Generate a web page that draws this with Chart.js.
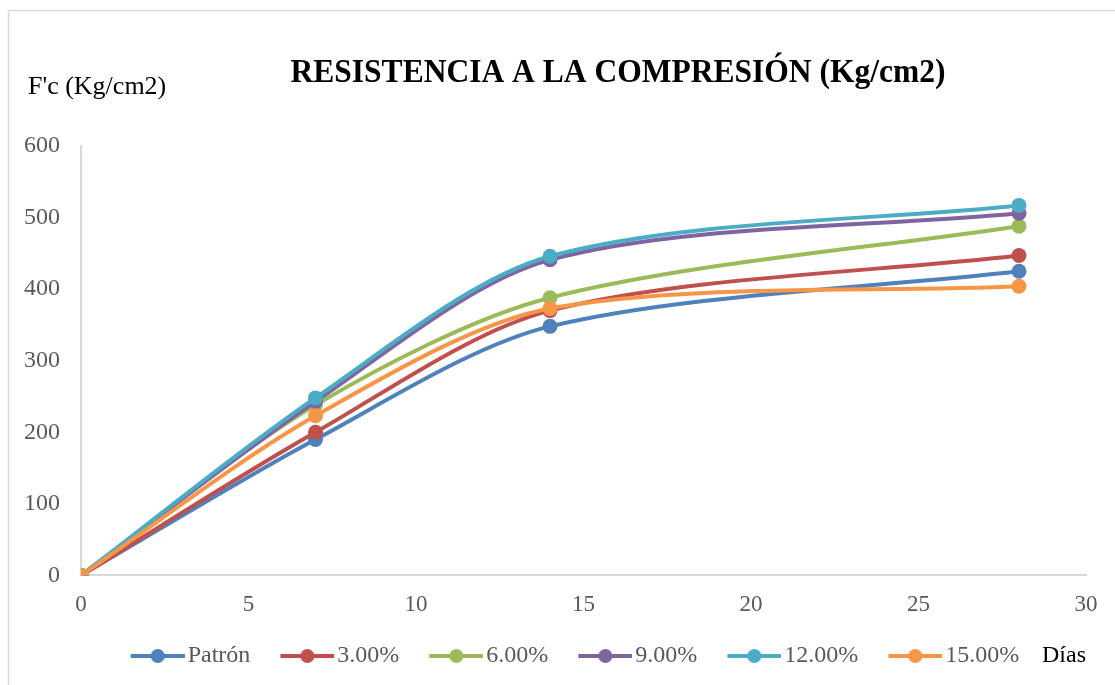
<!DOCTYPE html>
<html>
<head>
<meta charset="utf-8">
<script src="https://cdn.jsdelivr.net/npm/chart.js"></script>
<style>
  html, body { margin: 0; padding: 0; background: #fff; }
  #wrap { width: 1115px; height: 685px; position: relative; }
</style>
</head>
<body>
<div id="wrap"><canvas id="chart"></canvas></div>
<script>
// Resistencia a la compresion data

const dias = [0, 7, 14, 28];
const seriesNames = ["Patrón", "3.00%", "6.00%", "9.00%", "12.00%", "15.00%"];
const patron = [0, 190, 348, 425];
const p3 = [0, 200, 370, 447];
const p6 = [0, 238, 388, 488];
const p9 = [0, 243, 441, 506];
const p12 = [0, 248, 446, 517];
const p15 = [0, 223, 373, 404];
const colors = ["#4F81BD", "#C0504D", "#9BBB59", "#8064A2", "#4BACC6", "#F79646"];

const chartTitle = "RESISTENCIA A LA COMPRESIÓN (Kg/cm2)";
const yTitle = "F'c (Kg/cm2)";
const xTitle = "Días";

const serif = "'Liberation Serif', 'Times New Roman', serif";
const gray = "#595959";

const markerBox = 65; // legend box width (gap before the line is inside it)
const legendFont = 24;
const legendPad = 10;

// line+dot marker for the legend, like Excel, right-aligned in its box
function legendMarker(color) {
  const c = document.createElement("canvas");
  c.width = markerBox + 18;
  c.height = 16;
  const g = c.getContext("2d");
  const x0 = c.width - 54;
  g.strokeStyle = color;
  g.lineWidth = 4;
  g.beginPath();
  g.moveTo(x0, 8);
  g.lineTo(c.width, 8);
  g.stroke();
  g.fillStyle = color;
  g.beginPath();
  g.arc(x0 + 27, 8, 7, 0, Math.PI * 2);
  g.fill();
  return c;
}

const allValues = [patron, p3, p6, p9, p12, p15];

const datasets = allValues.map((vals, i) => ({
  label: seriesNames[i],
  data: dias.map((d, j) => ({ x: d, y: vals[j] })),
  borderColor: colors[i],
  backgroundColor: colors[i],
  borderWidth: 4,
  pointRadius: 7.5,
  pointHoverRadius: 7.5,
  pointBorderWidth: 0,
  tension: 0.3,
  fill: false,
  order: allValues.length - 1 - i, // later series drawn on top
  pointStyle: "circle",
  legendMarker: legendMarker(colors[i])
}));

// title, axis caption and frame
const textPlugin = {
  id: "textPlugin",
  afterLayout(chart) {
    // nudge the legend row: a bit right of centre, line centre at y=656
    const lg = chart.legend;
    const h = lg.bottom - lg.top;
    const dx = 22;
    lg.left += dx; lg.right += dx;
    lg.top = 656 - legendPad - legendFont / 2;
    lg.bottom = lg.top + h;
  },
  afterDraw(chart) {
    const ctx = chart.ctx;
    ctx.save();
    // frame
    ctx.strokeStyle = "#d9d9d9";
    ctx.lineWidth = 1.5;
    ctx.strokeRect(8.5, 10.5, 1120, 700);

    ctx.fillStyle = "#000";
    ctx.font = "bold 33px " + serif;
    ctx.textAlign = "center";
    ctx.textBaseline = "middle";
    ctx.fillText(chartTitle, 618, 73, 655);

    ctx.font = "26px " + serif;
    ctx.fillStyle = "#000";
    ctx.textAlign = "left";
    ctx.fillText(yTitle, 28, 87, 139);

    const yMid = chart.legend.top + legendPad + legendFont / 2;
    ctx.font = "24px " + serif;
    ctx.textAlign = "right";
    ctx.fillText(xTitle, chart.chartArea.right, yMid);
    ctx.restore();
  }
};

new Chart(document.getElementById("chart"), {
  type: "line",
  data: { datasets: datasets },
  options: {
    responsive: true,
    maintainAspectRatio: false,
    animation: false,
    layout: {
      padding: { top: 146, left: 0, right: 29, bottom: 6 }
    },
    plugins: {
      title: { display: false },
      tooltip: { enabled: false },
      legend: {
        position: "bottom",
        reverse: true,
        labels: {
          usePointStyle: true,
          pointStyleWidth: markerBox,
          padding: legendPad,
          color: gray,
          font: { family: serif, size: legendFont },
          generateLabels(chart) {
            return chart.data.datasets.map((ds, i) => ({
              text: ds.label,
              fillStyle: ds.borderColor,
              strokeStyle: ds.borderColor,
              lineWidth: 0,
              pointStyle: ds.legendMarker,
              fontColor: gray,
              hidden: false,
              datasetIndex: i
            })).reverse();
          }
        }
      }
    },
    scales: {
      x: {
        type: "linear",
        min: 0,
        max: 30,
        ticks: {
          stepSize: 5,
          color: gray,
          padding: 16,
          font: { family: serif, size: 23 }
        },
        grid: { display: false, drawTicks: false },
        border: { display: true, color: "#d9d9d9", width: 2 }
      },
      y: {
        min: 0,
        max: 600,
        ticks: {
          stepSize: 100,
          color: gray,
          padding: 21,
          font: { family: serif, size: 24 }
        },
        grid: { display: false, drawTicks: false },
        border: { display: true, color: "#d9d9d9", width: 2 },
        afterFit(scale) { scale.width = 81; }
      }
    }
  },
  plugins: [textPlugin]
});
</script>
</body>
</html>
